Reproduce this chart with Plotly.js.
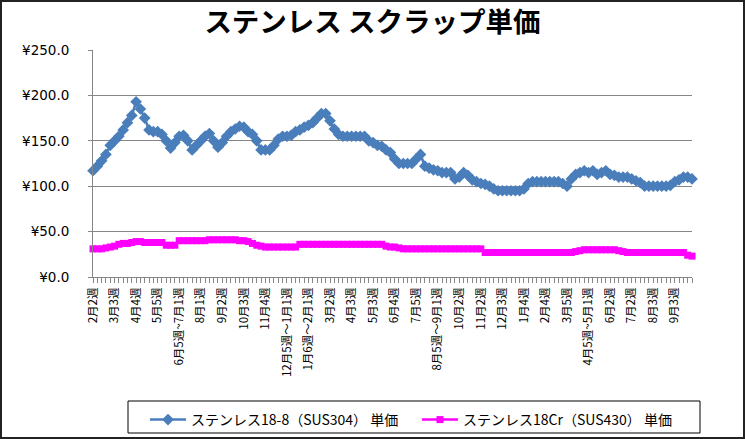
<!DOCTYPE html>
<html><head><meta charset="utf-8">
<script src="https://cdn.plot.ly/plotly-3.0.1.min.js"></script>
<style>
html,body{margin:0;padding:0;background:#fff}
#wrap{position:relative;width:745px;height:439px}
#chart{width:745px;height:439px}
#frame{position:absolute;left:0;top:0;width:745px;height:439px;box-sizing:border-box;border:2px solid #222;pointer-events:none}
</style></head><body>
<div id="wrap"><div id="chart"></div><div id="frame"></div></div>
<script>
const tickLabels = ["2月2週","3月3週","4月4週","5月5週","6月5週~7月1週","8月1週","9月2週","10月3週","11月4週","12月5週～1月1週","1月6週～2月1週","3月2週","4月3週","5月3週","6月4週","7月5週","8月5週～9月1週","10月2週","11月2週","12月3週","1月4週","2月4週","3月5週","4月5週~5月1週","6月2週","7月2週","8月3週","9月3週"];

const sus304 = [117,122,128,135,145,150,155,162,170,178,
193,185,175,162,160,160,157,150,142,148,
155,156,150,140,145,150,155,158,150,143,
148,155,160,163,166,165,160,157,150,140,
140,140,145,152,155,155,156,160,162,165,
167,170,175,180,180,172,163,157,155,155,
155,155,155,155,150,148,145,144,140,137,
130,125,125,125,125,130,135,122,120,118,
117,115,115,115,108,110,115,112,107,105,
103,102,100,97,95,95,95,95,95,95,
97,103,105,105,105,105,105,105,105,103,
100,108,113,115,117,115,117,113,115,117,
113,112,110,110,110,108,106,104,100,100,
100,100,100,100,101,105,107,110,110,108];

const sus430 = [31,31,31,32,33,34,36,37,37,38,
39,39,38,38,38,38,38,35,35,35,
40,40,40,40,40,40,40,41,41,41,
41,41,41,41,40,40,39,37,35,34,
33,33,33,33,33,33,33,33,36,36,
36,36,36,36,36,36,36,36,36,36,
36,36,36,36,36,36,36,36,34,33,
33,32,31,31,31,31,31,31,31,31,
31,31,31,31,31,31,31,31,31,31,
31,27,27,27,27,27,27,27,27,27,
27,27,27,27,27,27,27,27,27,27,
27,27,28,29,30,30,30,30,30,30,
30,30,29,28,27,27,27,27,27,27,
27,27,27,27,27,27,27,27,24,23];

const seriesNames = ["ステンレス18-8（SUS304） 単価","ステンレス18Cr（SUS430） 単価"];

const weekIndex = sus304.map((_, i) => i);
const tickText = weekIndex.map(i => (i % 5 === 0 ? tickLabels[i / 5] : ""));

const jp = '"Noto Sans CJK JP", "Noto Sans", sans-serif';

const traces = [
  {x: weekIndex, y: sus304, name: seriesNames[0], type: "scatter", mode: "lines+markers",
   line: {color: "#4a7ebb", width: 2.5},
   marker: {symbol: "diamond", size: 9, color: "#4a7ebb"}, cliponaxis: false},
  {x: weekIndex, y: sus430, name: seriesNames[1], type: "scatter", mode: "lines+markers",
   line: {color: "#ff00ff", width: 2.5},
   marker: {symbol: "square", size: 7, color: "#ff00ff"}, cliponaxis: false}
];

const layout = {
  width: 745, height: 439,
  margin: {l: 93, r: 53, t: 50, b: 162, autoexpand: false},
  paper_bgcolor: "#fff", plot_bgcolor: "#fff",
  font: {family: jp, color: "#000"},
  title: {text: "<b>ステンレス スクラップ単価</b>", font: {family: jp, size: 27.5, color: "#000"},
          x: 0.5, xanchor: "center", y: 0.948, yanchor: "middle", yref: "container"},
  showlegend: true,
  legend: {orientation: "h", x: 145 / 745, xref: "container", xanchor: "left",
           y: 1 - 420 / 439, yref: "container", yanchor: "middle",
           font: {family: jp, size: 14, color: "#000"}, bgcolor: "rgba(0,0,0,0)",
           borderwidth: 0, entrywidth: 221, itemwidth: 36},
  xaxis: {range: [0, 139], tickmode: "array", tickvals: weekIndex, ticktext: tickText,
          tickangle: -90, ticks: "outside", ticklen: 5, tickcolor: "#868686",
          showline: true, linecolor: "#868686", linewidth: 1, showgrid: false, zeroline: false,
          automargin: false,
          tickfont: {family: jp, size: 11.5, color: "#000"}},
  yaxis: {range: [0, 250], dtick: 50, tick0: 0, tickprefix: "¥", tickformat: ".1f",
          ticks: "outside", ticklen: 4, tickcolor: "#868686", ticklabelstandoff: 16,
          showline: true, linecolor: "#868686", linewidth: 1, automargin: false,
          showgrid: true, gridcolor: "#868686", gridwidth: 1, zeroline: false,
          tickfont: {family: '"DejaVu Sans", sans-serif', size: 13.5, color: "#000"}},
  shapes: [
    {type: "rect", xref: "paper", yref: "paper",
     x0: (128 - 93) / 599, x1: (700 - 93) / 599, y0: (277 - 401) / 227, y1: (277 - 433) / 227,
     line: {color: "#000", width: 1}, fillcolor: "rgba(0,0,0,0)"}
  ]
};

Plotly.newPlot("chart", traces, layout, {displayModeBar: false, staticPlot: true});
</script>
</body></html>
